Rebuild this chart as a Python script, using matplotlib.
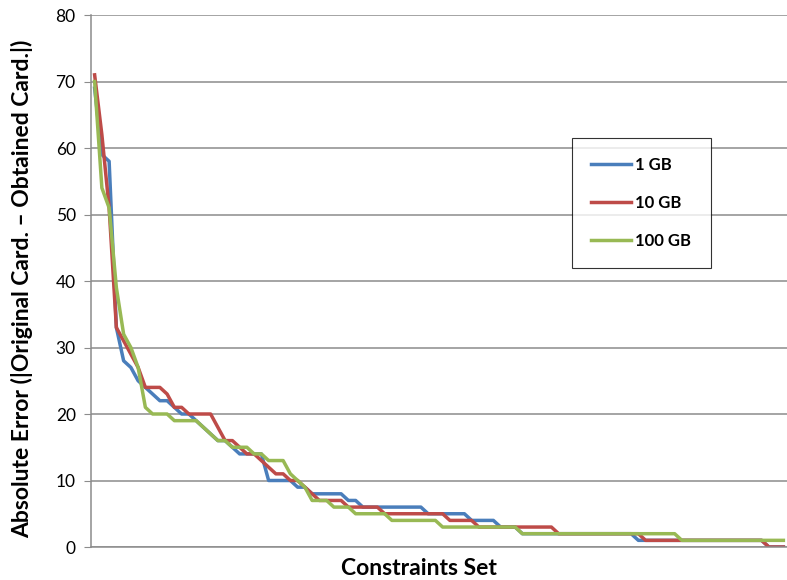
import matplotlib
matplotlib.use('Agg')
import matplotlib.pyplot as plt
import numpy as np

# absolute error per constraint set (sorted)
gb1 = [69, 59, 58, 33, 28, 27, 25, 24, 23, 22, 22, 21, 20, 20, 19, 18, 17, 16, 16, 15,
       14, 14, 14, 14, 10, 10, 10, 10, 9, 9, 8, 8, 8, 8, 8, 7, 7, 6,
       6, 6, 6, 6, 6, 6, 6, 6,
       5, 5, 5, 5, 5, 5,
       4, 4, 4, 4,
       3, 3, 3,
       2, 2, 2, 2, 2, 2, 2, 2, 2, 2, 2, 2, 2, 2, 2, 2,
       1, 1, 1, 1, 1, 1, 1, 1, 1, 1, 1, 1, 1, 1, 1, 1, 1, 1,
       0, 0, 0]
gb10 = [71, 62, 51, 33, 31, 29, 27, 24, 24, 24, 23, 21, 21, 20, 20, 20, 20, 18, 16, 16,
        15, 14, 14, 13, 12, 11, 11, 10, 10, 9, 8, 7, 7, 7, 7, 6,
        6, 6, 6, 6,
        5, 5, 5, 5, 5, 5, 5, 5, 5,
        4, 4, 4, 4,
        3, 3, 3, 3, 3, 3, 3, 3, 3, 3, 3,
        2, 2, 2, 2, 2, 2, 2, 2, 2, 2, 2, 2,
        1, 1, 1, 1, 1, 1, 1, 1, 1, 1, 1, 1, 1, 1, 1, 1, 1,
        0, 0, 0]
gb100 = [70, 54, 51, 39, 32, 30, 27, 21, 20, 20, 20, 19, 19, 19, 19, 18, 17, 16, 16, 15,
         15, 15, 14, 14, 13, 13, 13, 11, 10, 9, 7, 7, 7, 6, 6, 6, 5,
         5, 5, 5, 5,
         4, 4, 4, 4, 4, 4, 4,
         3, 3, 3, 3, 3, 3, 3, 3, 3, 3, 3,
         2, 2, 2, 2, 2, 2, 2, 2, 2, 2, 2, 2, 2, 2, 2, 2, 2, 2, 2, 2, 2, 2,
         1, 1, 1, 1, 1, 1, 1, 1, 1, 1, 1, 1, 1, 1, 1]
labels = ['1 GB', '10 GB', '100 GB']
colors = ['#4A7EBB', '#BE4B48', '#98B954']

plt.rcParams['font.family'] = ['Lato', 'DejaVu Sans']

fig = plt.figure(figsize=(7.87, 5.8), dpi=100)
ax = fig.add_axes([91/787, 1 - 547/580, 1 - 91/787, (547 - 15)/580])

x = np.arange(len(gb1))
for ys, lab, c in zip([gb1, gb10, gb100], labels, colors):
    ax.plot(x, ys, color=c, lw=2.5, label=lab, solid_joinstyle='round')

ax.set_xlim(-0.5, len(gb1) - 0.5)
ax.set_ylim(0, 80)
ax.set_yticks(np.arange(0, 81, 10))
ax.set_xticks([])
ax.yaxis.grid(True, color='#8c8c8c', lw=1.1)
ax.set_axisbelow(True)
for s in ['top', 'right']:
    ax.spines[s].set_visible(False)
ax.spines['left'].set_color('#8c8c8c')
ax.spines['bottom'].set_color('#8c8c8c')
ax.spines['left'].set_linewidth(1.1)
ax.spines['bottom'].set_linewidth(1.1)
ax.tick_params(axis='y', length=5, color='#8c8c8c', labelsize=12.5, pad=6)

ax.set_ylabel('Absolute Error (|Original Card. \u2013 Obtained Card.|)',
              fontsize=16.5, fontweight='bold')
ax.yaxis.set_label_coords(-0.083, 0.485)
ax.set_xlabel('Constraints Set', fontsize=16.5, fontweight='bold')
ax.xaxis.set_label_coords(0.471, -0.02)

leg = fig.legend(loc='upper left', bbox_to_anchor=(572/787, 1 - 138/580),
                 frameon=True, fancybox=False, edgecolor='black',
                 prop={'weight': 'bold', 'size': 12},
                 handlelength=2.4, handletextpad=0.25, labelspacing=1.3,
                 borderpad=1.15, borderaxespad=0)
leg.get_frame().set_linewidth(0.8)

plt.savefig('out.png', dpi=100)
